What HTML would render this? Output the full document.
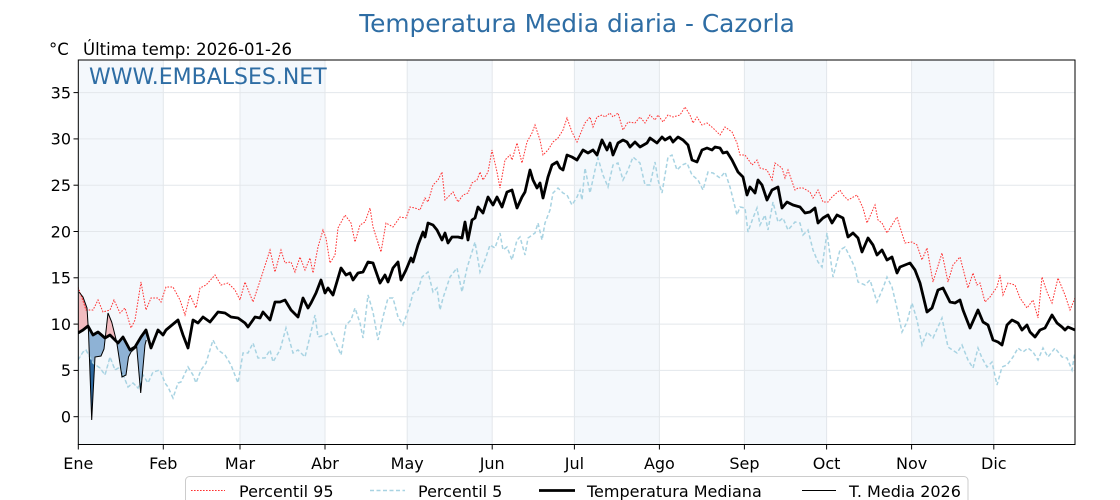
<!DOCTYPE html>
<html><head><meta charset="utf-8"><style>
html,body{margin:0;padding:0;background:#fff;}
svg{display:block;}
text{font-family:"DejaVu Sans","Liberation Sans",sans-serif;}
</style></head><body>
<svg width="1120" height="500" viewBox="0 0 1120 500" xmlns="http://www.w3.org/2000/svg">
<defs>
<clipPath id="plot"><rect x="78.3" y="60" width="996.7" height="384.5"/></clipPath>
<clipPath id="belowMed"><polygon points="78,333 83,330 88,326 93,335 98,332 105,338 110,335 118,343 123,337 130,350 135,347 141,337 146,330 151,348 160,330 160,445 78,445"/></clipPath>
<clipPath id="aboveMed"><polygon points="78,333 83,330 88,326 93,335 98,332 105,338 110,335 118,343 123,337 130,350 135,347 141,337 146,330 151,348 160,330 160,60 78,60"/></clipPath>
<clipPath id="belowP5"><polygon points="78,360 83,352 86,350 93,363 100,368 105,375 110,357 115,370 120,367 128,387 133,383 138,388 143,375 148,383 153,372 160,370 160,445 78,445"/></clipPath>
<clipPath id="aboveP95"><polygon points="78,287 81,295 86,310 93,310 98,300 103,312 110,310 114,300 120,313 125,308 131,328 135,320 141,282 146,310 151,298 160,298 160,60 78,60"/></clipPath>
</defs>

<!-- title -->
<text x="577" y="32" font-size="24.8" fill="#2e6da4" text-anchor="middle">Temperatura Media diaria - Cazorla</text>
<text x="49" y="55" font-size="16.5" fill="#000">°C</text>
<text x="83" y="55" font-size="16.5" fill="#000">Última temp: 2026-01-26</text>

<!-- month bands -->
<g fill="#f4f8fc">
<rect x="78.3" y="60" width="85" height="384.5"/>
<rect x="240" y="60" width="85" height="384.5"/>
<rect x="407.2" y="60" width="85" height="384.5"/>
<rect x="574.4" y="60" width="85" height="384.5"/>
<rect x="744.4" y="60" width="82.2" height="384.5"/>
<rect x="911.6" y="60" width="82.2" height="384.5"/>
</g>

<!-- grid -->
<g stroke="#e3e7eb" stroke-width="1">
<line x1="78.3" x2="1075" y1="416.7" y2="416.7"/>
<line x1="78.3" x2="1075" y1="370.4" y2="370.4"/>
<line x1="78.3" x2="1075" y1="324.1" y2="324.1"/>
<line x1="78.3" x2="1075" y1="277.8" y2="277.8"/>
<line x1="78.3" x2="1075" y1="231.5" y2="231.5"/>
<line x1="78.3" x2="1075" y1="185.2" y2="185.2"/>
<line x1="78.3" x2="1075" y1="138.9" y2="138.9"/>
<line x1="78.3" x2="1075" y1="92.6" y2="92.6"/>
<line x1="163.3" x2="163.3" y1="60" y2="444.5"/>
<line x1="240" x2="240" y1="60" y2="444.5"/>
<line x1="325" x2="325" y1="60" y2="444.5"/>
<line x1="407.2" x2="407.2" y1="60" y2="444.5"/>
<line x1="492.2" x2="492.2" y1="60" y2="444.5"/>
<line x1="574.4" x2="574.4" y1="60" y2="444.5"/>
<line x1="659.4" x2="659.4" y1="60" y2="444.5"/>
<line x1="744.4" x2="744.4" y1="60" y2="444.5"/>
<line x1="826.6" x2="826.6" y1="60" y2="444.5"/>
<line x1="911.6" x2="911.6" y1="60" y2="444.5"/>
<line x1="993.8" x2="993.8" y1="60" y2="444.5"/>
</g>

<!-- watermark -->
<text x="89" y="84" font-size="22" fill="#2e6da4">WWW.EMBALSES.NET</text>

<g clip-path="url(#plot)">
<!-- fills -->
<polygon clip-path="url(#belowMed)" fill="#8eb2d5" points="79,292 83,297 87,308 88.5,332 91.7,420 95,357 101,356 104,349 108,313 111.7,322 116.7,342 122,377 126,375 128.5,357 131,352 136.7,347 140.7,393 145,345 146.3,340 146.3,330 141,337 135,347 130,350 123,337 118,343 110,335 105,338 98,332 93,335 88,326 83,330 78,333"/>
<polygon clip-path="url(#aboveMed)" fill="#f2bcc0" points="79,292 83,297 87,308 88.5,332 91.7,420 95,357 101,356 104,349 108,313 111.7,322 116.7,342 122,377 126,375 128.5,357 131,352 136.7,347 140.7,393 145,345 146.3,340 146.3,330 141,337 135,347 130,350 123,337 118,343 110,335 105,338 98,332 93,335 88,326 83,330 78,333"/>
<polygon clip-path="url(#belowP5)" fill="#2b679e" points="79,292 83,297 87,308 88.5,332 91.7,420 95,357 101,356 104,349 108,313 111.7,322 116.7,342 122,377 126,375 128.5,357 131,352 136.7,347 140.7,393 145,345 146.3,340 146.3,376 143,375 138,388 133,383 128,387 120,367 115,370 110,357 105,375 100,368 93,363 86,350 83,352 78,360"/>
<polygon clip-path="url(#aboveP95)" fill="#e48a90" points="78,290 79,292 83,297 87,308 88.5,332 88.5,310 86,310 81,295 78,287"/>

<!-- P95 -->
<polyline fill="none" stroke="#ff3030" stroke-width="1" stroke-dasharray="1.6,1.4" points="78,287 81,295 86,310 93,310 98,300 103,312 110,310 114,300 120,313 125,308 131,328 135,320 141,282 146,310 151,298 158,298 161,302 166,287 173,287 180,300 185,315 190,295 196,308 200,288 206,285 215,275 221,285 228,283 235,290 240,300 245,282 253,302 261,278 270,250 275,272 281,250 285,263 291,262 295,272 300,257 305,270 310,258 313,273 318,247 323,230 326,238 330,263 335,255 338,228 345,215 351,223 355,242 360,225 365,222 370,208 373,227 381,252 386,223 393,227 400,217 406,218 410,207 415,208 420,210 425,198 428,202 433,185 438,180 442,172 445,200 450,195 453,192 458,202 463,195 468,193 472,183 477,180 480,172 483,180 488,172 492,150 497,172 500,188 505,160 510,155 512,160 517,143 522,163 527,142 532,133 535,125 540,140 543,155 548,150 553,142 558,138 563,130 567,118 572,132 577,142 582,130 585,123 590,117 593,127 597,117 602,115 605,117 610,113 613,117 618,113 623,130 628,122 635,123 640,117 645,123 650,115 655,120 658,115 663,122 668,115 673,117 680,115 685,107 690,115 693,123 697,117 702,125 707,123 713,128 720,135 725,127 732,132 737,143 740,155 745,155 750,162 752,165 757,160 760,168 767,170 772,180 775,163 782,168 785,178 788,170 795,190 798,188 803,188 810,192 813,198 818,190 823,202 828,202 832,197 840,190 843,195 848,200 857,195 863,208 867,223 875,205 878,220 882,223 887,233 892,225 897,217 900,227 905,243 912,242 917,245 922,260 927,248 933,282 942,253 948,282 953,265 960,257 968,288 973,273 977,285 980,283 985,302 990,297 997,287 1000,275 1003,295 1008,283 1015,285 1020,298 1027,308 1033,300 1038,318 1042,277 1047,292 1052,303 1058,278 1065,295 1070,310 1075,298"/>

<!-- P5 -->
<polyline fill="none" stroke="#a8d3e2" stroke-width="1.5" stroke-dasharray="4,2.5" points="78,360 83,352 86,350 93,363 100,368 105,375 110,357 115,370 120,367 128,387 133,383 138,388 143,375 148,383 153,372 160,370 165,383 168,387 173,398 178,383 181,382 188,367 193,375 196,383 201,370 206,363 213,340 218,350 225,355 231,365 238,383 243,353 248,353 253,343 258,358 265,358 270,350 273,362 280,350 286,328 293,353 298,350 305,357 311,332 315,315 318,337 325,335 331,332 336,343 341,355 346,325 351,320 355,308 360,323 363,338 368,295 373,312 378,340 383,317 388,298 393,298 398,317 403,325 410,305 413,293 418,290 422,277 428,272 433,292 437,288 440,310 443,298 450,277 457,268 462,292 467,268 472,252 475,242 480,272 485,260 490,245 495,248 500,233 503,250 507,247 512,260 517,240 520,237 525,255 528,238 535,233 538,223 542,240 545,223 550,210 553,193 558,188 563,193 567,195 572,205 577,197 580,190 582,200 585,168 590,193 595,170 598,158 603,175 608,187 613,165 618,163 623,180 628,170 633,157 640,163 645,185 650,185 655,162 658,180 662,193 668,157 672,155 677,170 682,165 687,163 692,175 698,180 703,190 708,172 713,173 720,178 725,172 730,187 737,215 740,207 745,208 748,232 753,218 757,208 760,225 765,215 768,230 773,202 778,222 783,218 788,230 795,222 800,223 803,235 808,230 813,250 818,262 822,267 827,233 833,277 840,250 845,247 850,257 855,268 858,282 865,285 870,280 877,302 883,288 887,277 892,287 897,308 902,332 907,322 912,303 917,320 922,345 927,332 933,338 942,318 948,347 957,353 962,345 968,360 973,368 978,348 982,358 987,367 992,362 997,385 1002,367 1007,365 1013,357 1018,348 1023,352 1028,348 1033,352 1038,360 1043,348 1048,357 1055,348 1062,357 1067,358 1072,370 1075,352"/>

<!-- Median -->
<polyline fill="none" stroke="#000" stroke-width="2.8" stroke-linejoin="round" points="78,333 83,330 88,326 93,335 98,332 105,338 110,335 118,343 123,337 130,350 135,347 141,337 146,330 151,348 158,330 163,335 166,330 178,320 183,335 188,348 193,320 198,323 203,317 210,322 218,312 225,313 231,317 238,318 245,323 248,327 255,317 260,318 263,312 270,320 275,302 280,302 285,300 291,310 298,317 303,298 308,308 311,303 316,293 321,280 325,293 328,288 333,295 341,268 346,275 350,273 353,280 358,273 363,272 368,262 373,263 380,283 385,275 388,282 393,268 398,262 401,280 406,270 411,258 413,262 418,245 423,232 425,237 428,223 433,225 437,230 442,240 445,233 448,243 452,237 458,237 462,238 465,222 468,240 472,220 475,218 478,207 483,213 488,197 493,205 497,197 502,207 507,192 512,190 517,208 522,197 525,192 530,170 533,180 537,188 540,183 543,198 548,177 552,165 557,162 560,168 563,170 567,155 572,157 577,160 583,150 588,153 593,150 597,155 602,140 607,150 610,143 613,155 618,143 623,140 627,142 630,147 635,142 640,147 647,143 650,138 657,143 662,137 665,140 670,137 673,142 678,137 683,140 688,145 692,160 697,162 702,150 707,148 712,150 715,147 720,148 723,153 727,152 732,160 738,172 743,177 747,195 750,187 755,193 758,180 762,185 767,200 772,190 778,187 782,208 787,202 793,205 800,207 805,213 810,212 815,208 818,223 823,218 828,215 832,223 837,215 843,218 848,237 853,233 858,238 862,252 868,238 873,245 877,255 882,250 887,260 892,257 897,273 900,267 905,265 910,263 915,270 920,283 927,312 932,308 938,290 943,288 950,302 955,303 960,300 963,310 970,328 978,310 983,322 988,325 993,340 998,342 1002,345 1007,325 1012,320 1018,323 1022,330 1027,325 1030,332 1035,337 1040,330 1045,328 1052,315 1057,323 1062,327 1065,330 1068,327 1075,330"/>

<!-- T. Media 2026 -->
<polyline fill="none" stroke="#000" stroke-width="1" points="79,292 83,297 87,308 88.5,332 91.7,420 95,357 101,356 104,349 108,313 111.7,322 116.7,342 122,377 126,375 128.5,357 131,352 136.7,347 140.7,393 145,345 146.3,340"/>
</g>

<!-- axes frame -->
<rect x="78.3" y="60" width="996.7" height="384.5" fill="none" stroke="#000" stroke-width="1"/>

<!-- y ticks -->
<g stroke="#000" stroke-width="1">
<line x1="73.5" x2="78.3" y1="416.7" y2="416.7"/>
<line x1="73.5" x2="78.3" y1="370.4" y2="370.4"/>
<line x1="73.5" x2="78.3" y1="324.1" y2="324.1"/>
<line x1="73.5" x2="78.3" y1="277.8" y2="277.8"/>
<line x1="73.5" x2="78.3" y1="231.5" y2="231.5"/>
<line x1="73.5" x2="78.3" y1="185.2" y2="185.2"/>
<line x1="73.5" x2="78.3" y1="138.9" y2="138.9"/>
<line x1="73.5" x2="78.3" y1="92.6" y2="92.6"/>
<line x1="78.3" x2="78.3" y1="444.5" y2="449.5"/>
<line x1="163.3" x2="163.3" y1="444.5" y2="449.5"/>
<line x1="240" x2="240" y1="444.5" y2="449.5"/>
<line x1="325" x2="325" y1="444.5" y2="449.5"/>
<line x1="407.2" x2="407.2" y1="444.5" y2="449.5"/>
<line x1="492.2" x2="492.2" y1="444.5" y2="449.5"/>
<line x1="574.4" x2="574.4" y1="444.5" y2="449.5"/>
<line x1="659.4" x2="659.4" y1="444.5" y2="449.5"/>
<line x1="744.4" x2="744.4" y1="444.5" y2="449.5"/>
<line x1="826.6" x2="826.6" y1="444.5" y2="449.5"/>
<line x1="911.6" x2="911.6" y1="444.5" y2="449.5"/>
<line x1="993.8" x2="993.8" y1="444.5" y2="449.5"/>
</g>
<g font-size="16" fill="#000" text-anchor="end">
<text x="71" y="422.5">0</text>
<text x="71" y="376.2">5</text>
<text x="71" y="329.9">10</text>
<text x="71" y="283.6">15</text>
<text x="71" y="237.3">20</text>
<text x="71" y="191">25</text>
<text x="71" y="144.7">30</text>
<text x="71" y="98.4">35</text>
</g>
<g font-size="16" fill="#000" text-anchor="middle">
<text x="78.3" y="469">Ene</text>
<text x="163.3" y="469">Feb</text>
<text x="240" y="469">Mar</text>
<text x="325" y="469">Abr</text>
<text x="407.2" y="469">May</text>
<text x="492.2" y="469">Jun</text>
<text x="574.4" y="469">Jul</text>
<text x="659.4" y="469">Ago</text>
<text x="744.4" y="469">Sep</text>
<text x="826.6" y="469">Oct</text>
<text x="911.6" y="469">Nov</text>
<text x="993.8" y="469">Dic</text>
</g>

<!-- legend -->
<rect x="185.5" y="476.5" width="782.5" height="40" rx="4" fill="#fff" fill-opacity="0.8" stroke="#cccccc" stroke-width="1"/>
<line x1="191" x2="225" y1="490.5" y2="490.5" stroke="#ff3030" stroke-width="1" stroke-dasharray="1.6,1.4"/>
<line x1="370" x2="405" y1="490.5" y2="490.5" stroke="#a8d3e2" stroke-width="1.5" stroke-dasharray="4,2.5"/>
<line x1="539" x2="575" y1="490.5" y2="490.5" stroke="#000" stroke-width="2.8"/>
<line x1="802" x2="836" y1="490.5" y2="490.5" stroke="#000" stroke-width="1"/>
<g font-size="16" fill="#000">
<text x="239" y="497">Percentil 95</text>
<text x="418" y="497">Percentil 5</text>
<text x="587" y="497">Temperatura Mediana</text>
<text x="849" y="497">T. Media 2026</text>
</g>
</svg>
</body></html>
